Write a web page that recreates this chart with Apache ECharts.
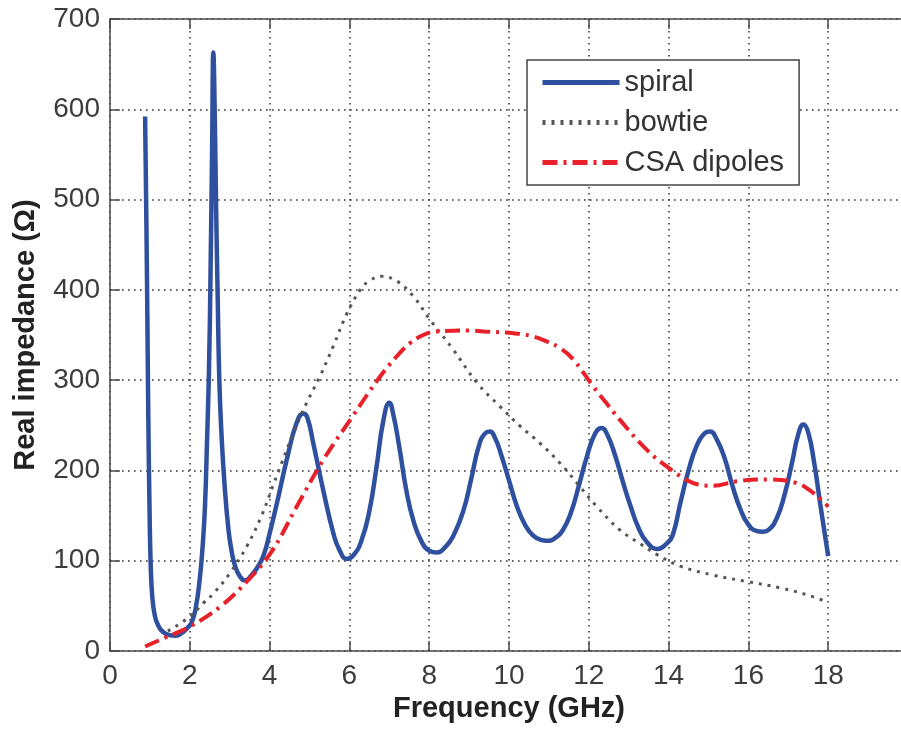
<!DOCTYPE html>
<html>
<head>
<meta charset="utf-8">
<script src="https://cdn.jsdelivr.net/npm/echarts@6/dist/echarts.min.js"></script>
<style>
html,body{margin:0;padding:0;background:#fff;}
#chart{width:901px;height:729px;}
</style>
</head>
<body>
<div id="chart"></div>
<script>
// ---- data ----
const seriesNames = ['spiral', 'bowtie', 'CSA dipoles'];

const spiralX = [0.88,0.9,0.93,0.96,0.99,1.02,1.06,1.12,1.2,1.33,1.5,1.65,1.8,1.95,2.05,2.15,2.25,2.32,2.38,2.43,2.48,2.52,2.56,2.59,2.62,2.66,2.7,2.74,2.8,2.87,2.97,3.05,3.13,3.25,3.38,3.55,3.7,3.85,4.0,4.2,4.43,4.68,4.85,4.95,5.1,5.35,5.6,5.75,5.93,6.1,6.3,6.5,6.68,6.85,7.0,7.1,7.25,7.43,7.6,7.8,8.0,8.2,8.4,8.6,8.86,9.05,9.25,9.4,9.52,9.65,9.8,10.0,10.2,10.4,10.6,10.8,10.95,11.15,11.35,11.55,11.75,11.95,12.15,12.32,12.45,12.65,12.85,13.05,13.25,13.45,13.72,13.95,14.1,14.3,14.5,14.7,14.9,15.04,15.2,15.4,15.6,15.8,16.0,16.2,16.35,16.5,16.7,16.9,17.1,17.25,17.38,17.5,17.65,17.8,17.92,18.0];
const spiralY = [592,520,400,260,160,95,60,40,29,21,17.5,17,20,26,32,48,80,115,160,230,310,420,560,663,610,490,390,300,235,185,134,110,95,83,78,84,93,106,130,167,212,253,263,258,229,177,130,112,102,106,122,155,204,255,275,262,226,177,145,122,111,109,115,127,156,190,228,241,243,236,218,189,160,140,128,123,122,125,134,153,183,215,240,247,241,218,188,160,136,121,113,119,128,165,200,227,241,243,235,214,183,157,140,133,132,134,146,172,210,240,251,242,208,163,128,105];

const bowtieX = [1.45,2.0,2.34,2.6,3.0,3.43,3.8,4.1,4.3,4.6,4.93,5.26,5.6,5.93,6.27,6.5,6.8,7.18,7.6,8.02,8.6,9.2,9.77,10.28,10.78,11.28,11.78,12.2,12.78,13.28,13.7,14.29,15.12,15.96,16.79,17.63,18.0];
const bowtieY = [22,38,53,64,86,116,150,185,208,242,275,304,338,373,400,410,415,410,393,367,334,297,271,249,230,208,182,160,134,119,107,94,84,77,70,60,53];

const csaX = [0.88,1.34,2.0,2.76,3.43,4.05,4.68,5.35,6.02,6.77,7.2,7.52,7.85,8.19,9.0,9.36,10.11,10.55,10.94,11.3,11.61,12.11,12.45,12.78,13.45,14.12,14.62,15.12,15.71,16.54,17.21,17.6,17.84,18.0];
const csaY = [5,14,27,49,77,110,160,212,256,304,327,341,350,354,355,354,352,349,343,335,323,293,274,256,223,199,186,183,188,190,186,176,167,160];

const xTickLabels = ['0','2','4','6','8','10','12','14','16','18',''];
const yTickLabels = ['0','100','200','300','400','500','600','700'];

// ---- chart ----
const FONT = '"Liberation Sans", Arial, Helvetica, sans-serif';
const zip = (xs, ys) => xs.map((x, i) => [x, ys[i]]);

const chart = echarts.init(document.getElementById('chart'), null, {renderer: 'canvas'});

const axisLineStyle = {color: '#4a4a4a', width: 1.5};
const gridLine = {show: true, lineStyle: {color: '#333333', width: 1.5, type: [1.6, 4.4]}};

chart.setOption({
  animation: false,
  backgroundColor: '#ffffff',
  grid: {left: 110, top: 19, width: 798, height: 632, containLabel: false, outerBoundsMode: 'none'},
  legend: {
    orient: 'vertical',
    left: 527, top: 60,
    padding: [8, 15, 8, 13],
    itemWidth: 77, itemHeight: 14, itemGap: 11,
    borderColor: '#444', borderWidth: 1.5,
    backgroundColor: '#ffffff',
    itemStyle: {opacity: 0, borderWidth: 0},
    lineStyle: {width: 5},
    textStyle: {fontFamily: FONT, fontSize: 29, color: '#333'},
    data: seriesNames
  },
  xAxis: [{
    type: 'value', min: 0, max: 20, interval: 2,
    name: 'Frequency (GHz)', nameLocation: 'middle', nameGap: 42,
    nameTextStyle: {fontFamily: FONT, fontSize: 29, fontWeight: 'bold', color: '#222'},
    axisLine: {show: true, lineStyle: axisLineStyle},
    axisTick: {show: true, inside: true, length: 10, lineStyle: axisLineStyle},
    axisLabel: {fontFamily: FONT, fontSize: 28, color: '#3c3c3c', margin: 11,
      formatter: v => xTickLabels[Math.round(v / 2)]},
    splitLine: gridLine
  }, {
    type: 'value', min: 0, max: 20, interval: 2, position: 'top',
    axisLine: {show: true, lineStyle: axisLineStyle},
    axisTick: {show: true, inside: true, length: 10, lineStyle: axisLineStyle},
    axisLabel: {show: false}, splitLine: {show: false}
  }],
  yAxis: [{
    type: 'value', min: 0, max: 700, interval: 100,
    name: 'Real impedance (Ω)', nameLocation: 'middle', nameGap: 70,
    nameTextStyle: {fontFamily: FONT, fontSize: 29, fontWeight: 'bold', color: '#222'},
    axisLine: {show: true, lineStyle: axisLineStyle},
    axisTick: {show: true, inside: true, length: 10, lineStyle: axisLineStyle},
    axisLabel: {fontFamily: FONT, fontSize: 28, color: '#3c3c3c', margin: 10,
      formatter: v => yTickLabels[Math.round(v / 100)]},
    splitLine: gridLine
  }],
  series: [{
    name: seriesNames[0], type: 'line', data: zip(spiralX, spiralY),
    showSymbol: false, symbol: 'none', smooth: 0.5,
    lineStyle: {color: '#2f4f9f', width: 4.5}, itemStyle: {color: '#2f4f9f'}, z: 3
  }, {
    name: seriesNames[1], type: 'line', data: zip(bowtieX, bowtieY),
    showSymbol: false, symbol: 'none', smooth: 0.4,
    lineStyle: {color: '#555555', width: 3, type: [3, 6]}, itemStyle: {color: '#555555'}, z: 4
  }, {
    name: seriesNames[2], type: 'line', data: zip(csaX, csaY),
    showSymbol: false, symbol: 'none', smooth: 0.4,
    lineStyle: {color: '#e8202a', width: 4, type: [15, 6, 3, 6]}, itemStyle: {color: '#e8202a'}, z: 5
  }]
});
</script>
</body>
</html>
